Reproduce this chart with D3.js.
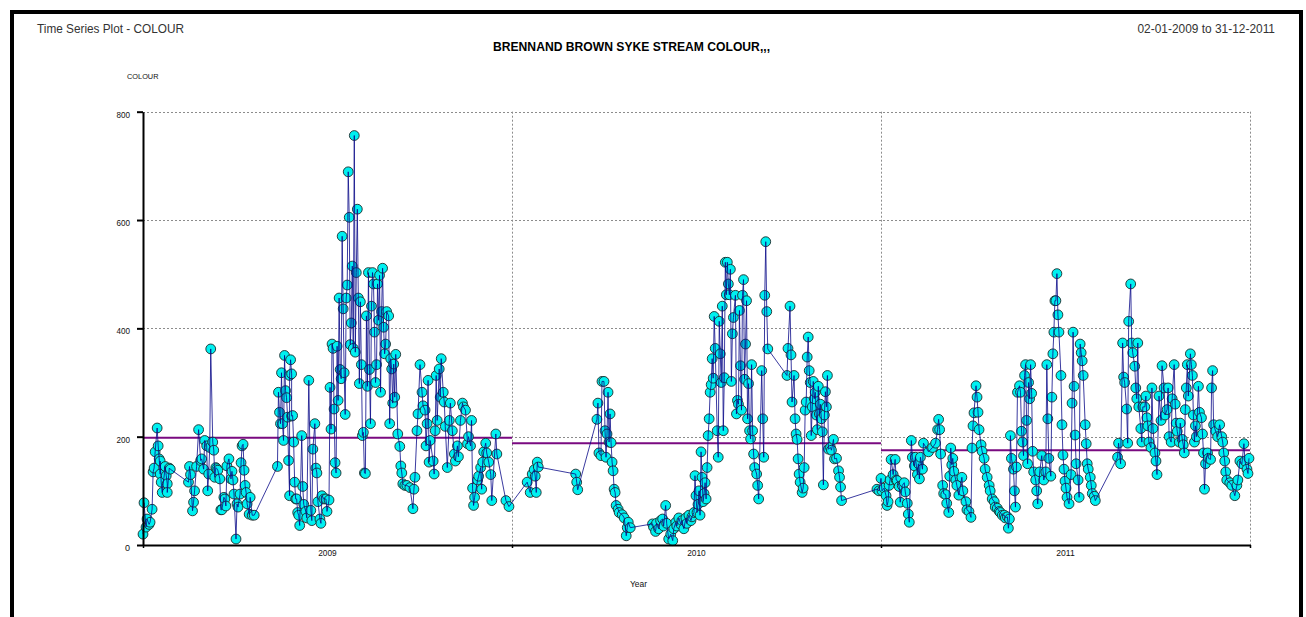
<!DOCTYPE html>
<html>
<head>
<meta charset="utf-8">
<title>BRENNAND BROWN SYKE STREAM COLOUR</title>
<script src="https://cdn.jsdelivr.net/npm/d3@7/dist/d3.min.js"></script>
<style>
  html, body { margin: 0; padding: 0; background: #fff; }
  svg { display: block; font-family: "Liberation Sans", Arial, sans-serif; }
</style>
</head>
<body>
<svg id="chart" width="1306" height="617"></svg>
<script>
// Colour readings, [day of year, colour] for each year of record
const series2009 = [
  [1,20],[2,78],[4,33],[5,48],[7,38],[8,42],[10,66],[11,135],[12,142],[13,172],[15,216],[16,183],
  [17,159],[18,131],[18,155],[19,116],[20,97],[23,145],[24,128],[25,113],[25,97],[27,142],[28,140],
  [46,116],[47,145],[48,130],[50,63],[51,79],[52,100],[54,145],[56,213],[58,156],[59,159],[61,140],
  [62,193],[64,183],[65,100],[66,131],[67,180],[68,362],[70,190],[71,175],[72,125],[73,143],[74,141],
  [75,138],[77,122],[78,65],[79,65],[81,88],[82,85],[83,72],[84,146],[86,159],[88,122],[89,136],
  [90,120],[91,94],[93,11],[94,76],[95,70],[97,94],[98,152],[99,183],[100,186],[101,138],[102,110],
  [103,97],[104,76],[106,57],[107,88],[109,55],[111,55],
  [134,145],[135,282],[136,245],[137,224],[138,318],[139,224],[140,193],[141,350],[142,285],[143,272],
  [144,236],[145,156],[146,91],[146,313],[147,342],[148,316],[148,238],[149,239],[150,190],[151,116],
  [152,85],[153,85],[154,60],[155,55],[156,36],[158,202],[159,108],[160,75],[162,62],[163,50],
  [165,304],[167,64],[168,45],[169,177],[171,224],[172,142],[173,133],[174,80],[176,48],[177,40],
  [178,91],[180,85],[182,85],[183,62],[185,83],[186,291],[187,214],[188,371],[189,363],[190,251],
  [191,152],[192,133],[193,367],[194,267],[195,456],[196,324],[197,307],[198,570],[199,436],[200,318],
  [201,241],[202,456],[203,480],[204,689],[205,605],[206,370],[207,410],[208,515],[209,363],[210,756],
  [211,356],[212,503],[213,620],[214,456],[215,298],[216,449],[217,333],[218,202],[219,208],[220,133],
  [221,132],[222,423],[223,293],[224,503],[225,324],[226,224],[227,441],[228,503],[229,482],[230,393],
  [231,300],[232,333],[233,482],[234,415],[235,498],[236,282],[237,431],[238,511],[239,402],[240,353],
  [241,371],[242,431],[244,423],[245,224],[246,344],[247,325],[248,262],[249,334],[250,273],[251,352],
  [253,205],[255,182],[256,146],[257,133],[258,113],[260,110],[262,110],[265,106],[268,67],[269,103],
  [270,125],[272,211],[273,242],[275,333],[277,282],[278,257],[280,249],[281,183],[282,224],[283,304],
  [284,153],[285,193],[288,155],[289,131],[290,211],[291,313],[292,230],[294,325],[295,273],[296,344],
  [298,282],[299,264],[300,219],[302,143],[304,230],[305,262],[307,211],[309,168],[310,155],[312,183],
  [313,163],[315,230],[317,262],[318,255],[320,249],[322,187],[323,200],[325,183],[326,230],[327,105],
  [328,73],[329,88],[332,120],[333,127],[335,143],[336,103],[337,153],[338,172],[340,188],[341,170],
  [343,153],[345,130],[346,82],[350,205],[351,168],[360,82],[363,71]
];

const series2010 = [
  [16,116],[19,97],[21,131],[23,139],[24,127],[25,97],[26,153],[27,144],[64,131],[65,116],[66,102],
  [85,232],[86,262],[87,170],[89,165],[90,302],[92,302],[93,211],[94,162],[95,205],[96,282],[97,190],
  [98,242],[99,189],[100,153],[101,137],[102,103],[103,97],[104,73],[106,66],[107,60],[110,56],
  [112,50],[114,17],[115,32],[116,42],[118,32],[140,39],[141,33],[143,25],[144,40],[146,30],[148,45],
  [150,48],[151,35],[153,73],[154,40],[156,11],[158,20],[160,8],[161,30],[163,42],[164,35],[166,50],
  [168,38],[169,45],[171,30],[173,50],[174,40],[176,55],[178,45],[179,52],[181,60],[182,128],[183,91],
  [184,60],[185,75],[186,100],[187,55],[188,172],[189,125],[190,80],[191,95],[192,115],[193,85],
  [194,143],[195,202],[196,233],[197,282],[198,296],[199,344],[200,308],[201,422],[202,363],[204,211],
  [205,162],[206,413],[207,353],[208,300],[209,441],[210,211],[211,309],[212,522],[213,462],[214,522],
  [215,482],[216,462],[217,509],[218,302],[219,390],[220,420],[222,461],[223,242],[224,267],[225,260],
  [226,433],[227,331],[228,249],[229,461],[230,490],[231,306],[232,371],[233,451],[234,233],[235,298],
  [236,211],[237,196],[238,333],[239,211],[240,168],[241,143],[243,131],[244,110],[245,85],[248,322],
  [249,233],[250,162],[251,461],[252,560],[253,431],[254,362],[273,313],[274,363],[276,441],[277,351],
  [278,264],[280,313],[281,233],[282,205],[283,195],[284,159],[285,131],[286,116],[288,97],[289,105],
  [290,143],[291,249],[292,264],[293,347],[294,384],[295,322],[296,300],[297,202],[298,255],[299,302],
  [300,270],[301,282],[302,240],[303,213],[304,293],[305,242],[306,260],[307,233],[308,209],[309,111],
  [310,240],[311,283],[312,255],[313,313],[314,177],[316,180],[317,175],[319,195],[320,159],[322,160],
  [324,137],[325,125],[326,107],[327,82],[362,103],[364,100]
];

const series2011 = [
  [1,123],[2,100],[4,105],[6,91],[7,73],[8,80],[9,110],[10,120],[11,158],[13,130],[15,158],[16,120],
  [17,119],[19,108],[20,79],[22,110],[24,115],[25,98],[27,77],[28,57],[29,42],[31,193],[32,162],
  [34,146],[35,162],[37,130],[38,150],[39,122],[40,162],[42,140],[43,188],[48,172],[52,180],[55,188],
  [57,213],[58,232],[59,213],[60,168],[62,110],[63,95],[65,93],[66,77],[68,60],[69,127],[70,179],
  [71,148],[72,160],[73,136],[75,120],[76,110],[78,92],[81,125],[82,100],[85,80],[86,65],[88,62],
  [90,51],[91,179],[92,220],[93,244],[95,294],[96,273],[97,245],[98,213],[100,185],[101,173],[103,160],
  [104,140],[106,125],[108,110],[109,100],[111,85],[113,80],[114,70],[116,68],[118,62],[119,60],
  [121,55],[123,55],[124,50],[126,52],[127,31],[128,48],[129,202],[130,160],[132,140],[133,100],
  [134,70],[135,144],[136,282],[138,294],[139,282],[140,210],[141,190],[142,165],[143,313],[144,333],
  [145,230],[146,150],[147,300],[148,270],[149,333],[150,280],[151,173],[152,135],[154,120],[155,100],
  [156,76],[158,135],[160,165],[162,120],[164,135],[165,333],[166,233],[167,160],[169,127],[170,273],
  [171,353],[172,393],[173,451],[174,451],[175,501],[176,425],[177,393],[179,313],[180,222],[181,166],
  [182,140],[183,118],[184,105],[185,88],[187,76],[189,130],[190,262],[191,393],[192,293],[193,203],
  [194,150],[196,120],[197,88],[198,371],[199,355],[200,340],[201,313],[203,222],[204,187],[205,150],
  [206,140],[208,125],[209,110],[210,95],[212,90],[213,82],[235,162],[236,188],[238,150],[240,373],
  [241,310],[242,300],[244,251],[245,188],[246,413],[248,482],[249,373],[250,355],[252,330],[253,290],
  [254,270],[255,373],[256,255],[258,215],[259,190],[260,255],[262,255],[263,275],[264,235],[265,220],
  [266,190],[268,180],[269,290],[270,215],[272,170],[273,155],[274,130],[276,275],[278,230],[279,331],
  [281,290],[282,240],[284,250],[285,290],[286,200],[288,190],[289,270],[291,333],[292,260],[293,225],
  [294,210],[296,190],[297,225],[299,195],[300,185],[301,170],[302,250],[303,290],[304,333],[305,275],
  [307,353],[308,333],[309,313],[310,240],[311,190],[312,220],[313,200],[315,293],[316,245],[318,235],
  [319,205],[320,170],[321,103],[322,150],[324,170],[325,160],[327,158],[328,290],[329,322],[330,222],
  [332,210],[334,200],[336,222],[338,200],[339,190],[340,170],[341,155],[342,135],[343,120],[346,115],
  [348,110],[351,91],[353,110],[354,120],[356,155],[358,150],[360,187],[361,155],[363,140],[364,132],
  [365,160]
];

const years = [2009, 2010, 2011];
const yearMeans = [198, 188, 175];
const yTicks = [0, 200, 400, 600, 800];

const titleText = "BRENNAND BROWN SYKE STREAM COLOUR,,,";
const headerLeft = "Time Series Plot - COLOUR";
const headerRight = "02-01-2009 to 31-12-2011";
const yLabel = "COLOUR";
const xLabel = "Year";

// ---- build the combined series ----
const dayDate = (yr, day) => new Date(Date.UTC(yr, 0, day));
const readings = [
  ...series2009.map(([d, v]) => ({ date: dayDate(2009, d), value: v })),
  ...series2010.map(([d, v]) => ({ date: dayDate(2010, d), value: v })),
  ...series2011.map(([d, v]) => ({ date: dayDate(2011, d), value: v }))
];

const svg = d3.select("#chart");

const x = d3.scaleUtc()
  .domain([dayDate(2009, 1), dayDate(2012, 1)])
  .range([143, 1250]);
const y = d3.scaleLinear()
  .domain([0, 800])
  .range([545, 111.7]);

const yearStarts = years.map(yr => dayDate(yr, 1));
const yearEnds = years.map(yr => dayDate(yr + 1, 1));

// ---- page frame ----
svg.append("rect")
  .attr("x", 12).attr("y", 12)
  .attr("width", 1289).attr("height", 720)
  .attr("fill", "none").attr("stroke", "#000").attr("stroke-width", 4);

// ---- header texts ----
svg.append("text")
  .attr("x", 37).attr("y", 33)
  .attr("font-size", 13).attr("fill", "#333")
  .attr("textLength", 147).attr("lengthAdjust", "spacingAndGlyphs")
  .text(headerLeft);

svg.append("text")
  .attr("x", 1137.5).attr("y", 33)
  .attr("font-size", 13).attr("fill", "#333")
  .attr("textLength", 137.5).attr("lengthAdjust", "spacingAndGlyphs")
  .text(headerRight);

svg.append("text")
  .attr("x", 493).attr("y", 51)
  .attr("font-size", 12.5).attr("font-weight", "bold").attr("fill", "#000")
  .attr("textLength", 277).attr("lengthAdjust", "spacingAndGlyphs")
  .text(titleText);

svg.append("text")
  .attr("x", 127).attr("y", 78.5)
  .attr("font-size", 7.5).attr("fill", "#111")
  .attr("textLength", 31.5).attr("lengthAdjust", "spacingAndGlyphs")
  .text(yLabel);

svg.append("text")
  .attr("x", 630).attr("y", 587)
  .attr("font-size", 9).attr("fill", "#111")
  .attr("textLength", 17).attr("lengthAdjust", "spacingAndGlyphs")
  .text(xLabel);

// ---- dotted grid ----
const grid = svg.append("g")
  .attr("stroke", "#8c8c8c").attr("stroke-width", 1)
  .attr("stroke-dasharray", "2,2").attr("fill", "none");

grid.selectAll("line.h")
  .data(yTicks.filter(t => t > 0))
  .join("line").attr("class", "h")
  .attr("x1", x.range()[0]).attr("x2", x.range()[1])
  .attr("y1", d => Math.round(y(d)) + 0.5).attr("y2", d => Math.round(y(d)) + 0.5);

grid.selectAll("line.v")
  .data(yearEnds)
  .join("line").attr("class", "v")
  .attr("x1", d => Math.round(x(d)) + 0.5).attr("x2", d => Math.round(x(d)) + 0.5)
  .attr("y1", y(800)).attr("y2", y(0));

// ---- annual mean lines ----
svg.append("g").selectAll("line")
  .data(years)
  .join("line")
  .attr("x1", (d, i) => x(yearStarts[i]))
  .attr("x2", (d, i) => x(yearEnds[i]))
  .attr("y1", (d, i) => y(yearMeans[i]))
  .attr("y2", (d, i) => y(yearMeans[i]))
  .attr("stroke", "#7a0a80").attr("stroke-width", 2);

// ---- markers ----
svg.append("g").selectAll("circle")
  .data(readings)
  .join("circle")
  .attr("cx", d => x(d.date))
  .attr("cy", d => y(d.value))
  .attr("r", 4.9)
  .attr("fill", "#00f0f0")
  .attr("stroke", "#1e2a2a").attr("stroke-width", 0.9);

// ---- connecting line ----
const line = d3.line()
  .x(d => x(d.date))
  .y(d => y(d.value));

svg.append("path")
  .datum(readings)
  .attr("d", line)
  .attr("fill", "none")
  .attr("stroke", "#0a0a88").attr("stroke-width", 1)
  .attr("stroke-opacity", 0.8);

// ---- axes ----
const yAxis = d3.axisLeft(y)
  .tickValues(yTicks)
  .tickSize(6).tickSizeOuter(0).tickPadding(7);

const yG = svg.append("g")
  .attr("transform", "translate(143,0)")
  .call(yAxis);
yG.select(".domain").attr("stroke", "#000").attr("stroke-width", 2);
yG.selectAll(".tick line").attr("stroke", "#000").attr("stroke-width", 2);
yG.selectAll(".tick text")
  .attr("font-family", "'Liberation Sans', Arial, sans-serif")
  .attr("font-size", 9).attr("fill", "#111")
  .attr("dy", "0.62em")
  .each(function (d) {
    if (String(d).length > 1) d3.select(this).attr("textLength", 13.5).attr("lengthAdjust", "spacingAndGlyphs");
  });

// boundary ticks on the year axis
const xAxis = d3.axisBottom(x)
  .tickValues([dayDate(2009, 1), ...yearEnds])
  .tickSize(3).tickSizeOuter(0)
  .tickFormat("");
const xG = svg.append("g")
  .attr("transform", "translate(0,545)")
  .call(xAxis);
xG.select(".domain").attr("stroke", "#000").attr("stroke-width", 2);
xG.selectAll(".tick line").attr("stroke", "#000").attr("stroke-width", 1.5);

// year labels centred in each year
const midYears = years.map(yr => dayDate(yr, 183));
const xLabels = d3.axisBottom(x)
  .tickValues(midYears)
  .tickSize(0).tickPadding(6)
  .tickFormat(d3.utcFormat("%Y"));
const xlG = svg.append("g")
  .attr("transform", "translate(0,545)")
  .call(xLabels);
xlG.select(".domain").remove();
xlG.selectAll(".tick text")
  .attr("font-family", "'Liberation Sans', Arial, sans-serif")
  .attr("font-size", 9.5).attr("fill", "#111")
  .attr("dy", "0.55em")
  .attr("textLength", 18.5).attr("lengthAdjust", "spacingAndGlyphs");
</script>
</body>
</html>
